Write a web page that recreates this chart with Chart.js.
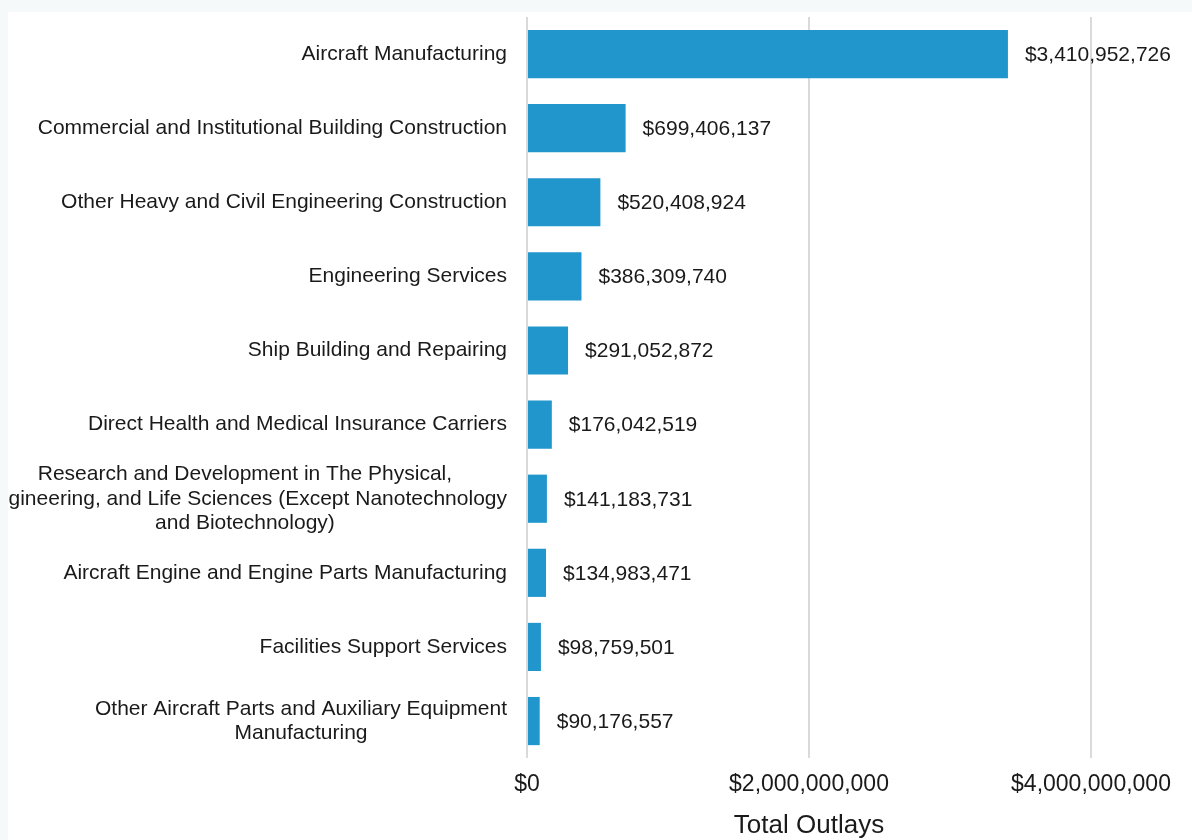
<!DOCTYPE html>
<html>
<head>
<meta charset="utf-8">
<script src="https://cdn.jsdelivr.net/npm/chart.js@4"></script>
<style>
  html, body { margin: 0; padding: 0; background: #f5f9fa; }
  #wrap { position: absolute; left: 8px; top: 12px; width: 1184px; height: 828px; background: #ffffff; }
</style>
</head>
<body>
<div id="wrap"><canvas id="outlays" width="1184" height="828"></canvas></div>
<script>
const categories = [
    ['Aircraft Manufacturing'],
    ['Commercial and Institutional Building Construction'],
    ['Other Heavy and Civil Engineering Construction'],
    ['Engineering Services'],
    ['Ship Building and Repairing'],
    ['Direct Health and Medical Insurance Carriers'],
    ['Research and Development in The Physical,', 'Engineering, and Life Sciences (Except Nanotechnology', 'and Biotechnology)'],
    ['Aircraft Engine and Engine Parts Manufacturing'],
    ['Facilities Support Services'],
    ['Other Aircraft Parts and Auxiliary Equipment', 'Manufacturing']
];
const outlays = [3410952726, 699406137, 520408924, 386309740, 291052872, 176042519, 141183731, 134983471, 98759501, 90176557];
const xTicks = [0, 2000000000, 4000000000];

const FONT = '"Liberation Sans", Arial, sans-serif';
const money = v => '$' + Number(v).toLocaleString('en-US');

// category labels, centred per line, block right-aligned to the axis
const catLabels = {
    id: 'catLabels',
    afterDraw(chart) {
        const ctx = chart.ctx;
        const y = chart.scales.y;
        const right = chart.chartArea.left - 20;
        ctx.save();
        ctx.font = '21px ' + FONT;
        ctx.fillStyle = '#1a1a1a';
        ctx.textAlign = 'center';
        ctx.textBaseline = 'middle';
        categories.forEach((lines, i) => {
            const w = Math.max(...lines.map(l => ctx.measureText(l).width));
            const cx = right - w / 2;
            const cy = y.getPixelForValue(i);
            const lh = 24.5;
            lines.forEach((l, k) => {
                ctx.fillText(l, cx, cy + (k - (lines.length - 1) / 2) * lh);
            });
        });
        ctx.restore();
    }
};

// value labels right of each bar
const valueLabels = {
    id: 'valueLabels',
    afterDatasetsDraw(chart) {
        const ctx = chart.ctx;
        const meta = chart.getDatasetMeta(0);
        ctx.save();
        ctx.font = '21px ' + FONT;
        ctx.fillStyle = '#1a1a1a';
        ctx.textAlign = 'left';
        ctx.textBaseline = 'middle';
        meta.data.forEach((bar, i) => {
            ctx.fillText(money(outlays[i]), bar.x + 17, bar.y + 1);
        });
        ctx.restore();
    }
};

new Chart(document.getElementById('outlays'), {
    type: 'bar',
    data: {
        labels: categories,
        datasets: [{
            data: outlays,
            backgroundColor: '#2196cc',
            borderWidth: 0,
            categoryPercentage: 1,
            barPercentage: 0.65
        }]
    },
    options: {
        indexAxis: 'y',
        responsive: false,
        animation: false,
        devicePixelRatio: 1,
        layout: { padding: { top: 5, right: 101, bottom: 0, left: 0 } },
        plugins: {
            legend: { display: false },
            tooltip: { enabled: false }
        },
        scales: {
            x: {
                min: 0,
                max: 4000000000,
                grid: { color: '#dadada', lineWidth: 2, drawTicks: false },
                border: { display: false },
                afterBuildTicks: scale => { scale.ticks = xTicks.map(v => ({ value: v })); },
                ticks: {
                    color: '#1a1a1a',
                    padding: 14,
                    font: { family: FONT, size: 23, lineHeight: 1.1 },
                    callback: v => money(v)
                },
                title: {
                    display: true,
                    text: 'Total Outlays',
                    color: '#1a1a1a',
                    font: { family: FONT, size: 26, lineHeight: 1.1 },
                    padding: { top: 0, bottom: 0 }
                }
            },
            y: {
                grid: { display: false },
                border: { display: false },
                ticks: { display: false },
                afterFit: scale => { scale.width = 519; }
            }
        }
    },
    plugins: [catLabels, valueLabels]
});
</script>
</body>
</html>
